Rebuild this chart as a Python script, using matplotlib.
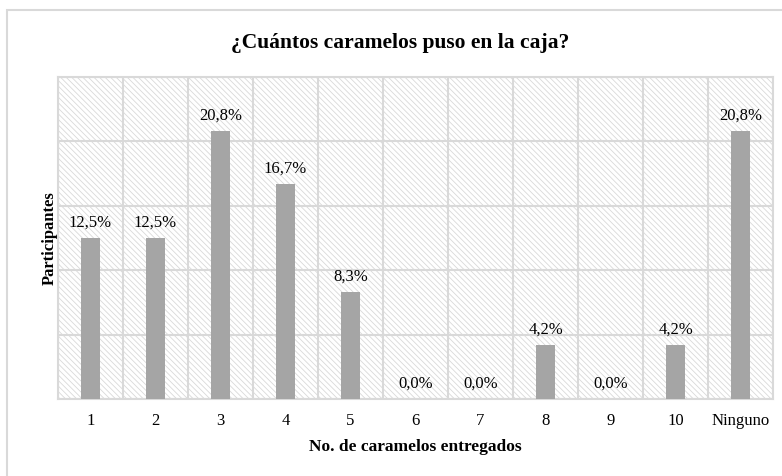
import matplotlib
matplotlib.use("Agg")
import matplotlib.pyplot as plt
from matplotlib.patches import Rectangle
import numpy as np

categories = ["1", "2", "3", "4", "5", "6", "7", "8", "9", "10", "Ninguno"]
values = [12.5, 12.5, 20.8, 16.7, 8.3, 0.0, 0.0, 4.2, 0.0, 4.2, 20.8]
labels = ["12,5%", "12,5%", "20,8%", "16,7%", "8,3%", "0,0%", "0,0%", "4,2%", "0,0%", "4,2%", "20,8%"]

plt.rcParams['font.family'] = ['Liberation Serif', 'DejaVu Serif']
plt.rcParams['hatch.linewidth'] = 0.6

fig = plt.figure(figsize=(7.82, 4.76), dpi=100)
# chart area border
fig.patches.append(Rectangle((7/782, -0.1), 1.0, 1 - 10/476 + 0.1, transform=fig.transFigure,
                             facecolor='white', edgecolor='#d9d9d9', linewidth=1.5, zorder=-5))

ax = fig.add_axes([58/782, 1 - 399/476, (773 - 58)/782, (399 - 77)/476])
ax.set_zorder(2)
ax.patch.set_alpha(0)
bg = Rectangle((0, 0), 1, 1, transform=ax.transAxes, facecolor='white',
               edgecolor='#d9d9d9', linewidth=0, hatch='\\\\\\\\\\\\', zorder=0)
ax.add_patch(bg)

x = np.arange(len(categories))
ax.bar(x, values, width=0.28, color='#a5a5a5', zorder=3)
for xi, v, lab in zip(x, values, labels):
    ax.text(xi, v + 0.6, lab, ha='center', va='bottom', fontsize=12, color='#000000', zorder=4)

ax.set_xlim(-0.5, len(categories) - 0.5)
ax.set_ylim(0, 25)
ax.set_yticks([0, 5, 10, 15, 20, 25])
ax.set_yticklabels([])
ax.set_xticks(np.arange(-0.5, len(categories), 1), minor=False)
ax.set_xticklabels([])
ax.set_xticks(x, minor=True)
ax.set_xticklabels(categories, minor=True, fontsize=12)
ax.tick_params(axis='both', which='both', length=0)
ax.tick_params(axis='x', which='minor', pad=10)
ax.grid(True, which='major', color='#d9d9d9', linewidth=1.5, zorder=1)
ax.set_axisbelow(True)
for s in ax.spines.values():
    s.set_color('#d9d9d9')
    s.set_linewidth(1.5)

ax.set_xlabel("No. de caramelos entregados", fontsize=12.5, fontweight='bold', labelpad=7)
ax.set_ylabel("Participantes", fontsize=12, fontweight='bold', labelpad=-3)
fig.text(0.512, 1 - 43/476, "¿Cuántos caramelos puso en la caja?", ha='center', va='center',
         fontsize=15.5, fontweight='bold')

fig.savefig("out.png", dpi=100)
